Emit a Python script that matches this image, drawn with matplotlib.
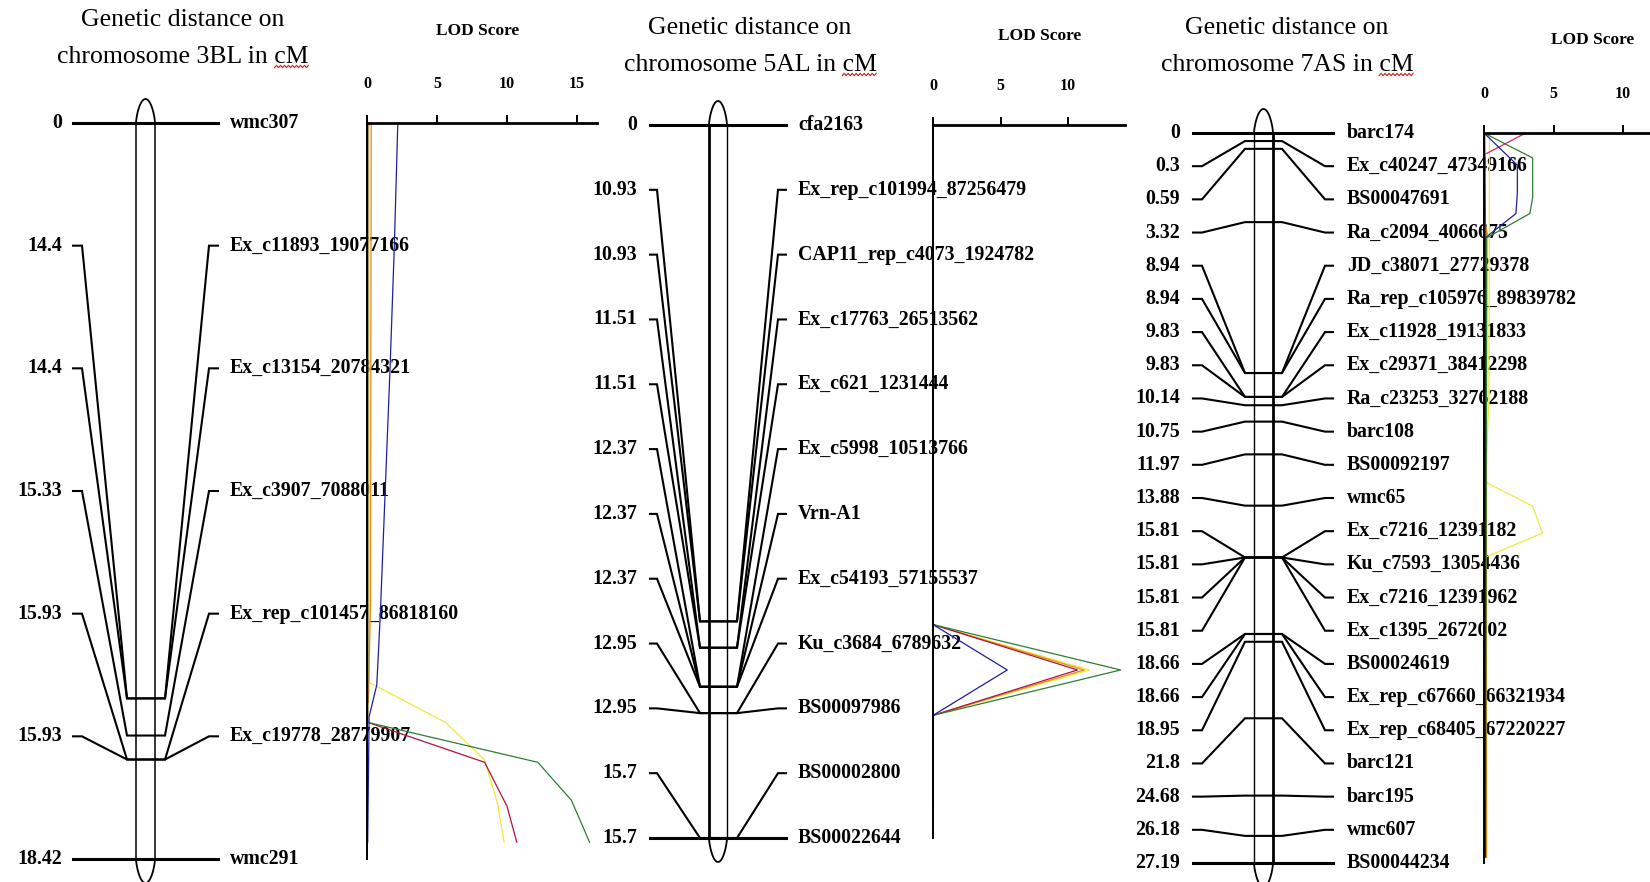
import numpy as np
import matplotlib
matplotlib.use('Agg')
import matplotlib.pyplot as plt
from matplotlib.lines import Line2D
from matplotlib.transforms import IdentityTransform

plt.rcParams['font.family'] = ['Liberation Serif', 'DejaVu Serif']

W, H = 1650, 882

# ---------------- linkage maps (marker names / positions in cM) ----------------
bl3_markers = ['wmc307', 'Ex_c11893_19077166', 'Ex_c13154_20784321', 'Ex_c3907_7088011',
               'Ex_rep_c101457_86818160', 'Ex_c19778_28779907', 'wmc291']
bl3_cm = [0, 14.4, 14.4, 15.33, 15.93, 15.93, 18.42]

al5_markers = ['cfa2163', 'Ex_rep_c101994_87256479', 'CAP11_rep_c4073_1924782',
               'Ex_c17763_26513562', 'Ex_c621_1231444', 'Ex_c5998_10513766', 'Vrn-A1',
               'Ex_c54193_57155537', 'Ku_c3684_6789632', 'BS00097986', 'BS00002800',
               'BS00022644']
al5_cm = [0, 10.93, 10.93, 11.51, 11.51, 12.37, 12.37, 12.37, 12.95, 12.95, 15.7, 15.7]

as7_markers = ['barc174', 'Ex_c40247_47349166', 'BS00047691', 'Ra_c2094_4066675',
               'JD_c38071_27729378', 'Ra_rep_c105976_89839782', 'Ex_c11928_19131833',
               'Ex_c29371_38412298', 'Ra_c23253_32762188', 'barc108', 'BS00092197', 'wmc65',
               'Ex_c7216_12391182', 'Ku_c7593_13054436', 'Ex_c7216_12391962',
               'Ex_c1395_2672002', 'BS00024619', 'Ex_rep_c67660_66321934',
               'Ex_rep_c68405_67220227', 'barc121', 'barc195', 'wmc607', 'BS00044234']
as7_cm = [0, 0.3, 0.59, 3.32, 8.94, 8.94, 9.83, 9.83, 10.14, 10.75, 11.97, 13.88,
          15.81, 15.81, 15.81, 15.81, 18.66, 18.66, 18.95, 21.8, 24.68, 26.18, 27.19]

# ---------------- LOD profiles: (cM, LOD) ----------------
bl3_yellow = ([0, 14.0, 15.0, 15.94, 17.0, 18.0], [0.15, 0.15, 5.6, 8.4, 9.3, 9.8])
bl3_orange = ([0, 12.0, 14.5], [0.3, 0.25, 0.1])
bl3_red = ([0, 15.0, 16.0, 17.1, 18.0], [0.05, 0.05, 8.4, 10.0, 10.7])
bl3_green = ([0, 15.0, 16.0, 16.95, 18.0], [0.05, 0.05, 12.2, 14.6, 15.9])
bl3_blue = ([0, 3.1, 6.1, 9.2, 12.3, 14.06, 14.86, 18.0], [2.2, 1.95, 1.65, 1.3, 0.95, 0.7, 0.15, 0.05])

al5_yellow = ([0, 11.0, 12.0, 13.0, 15.0], [0, 0, 11.6, 0, 0])
al5_orange = ([0, 11.0, 12.0, 13.0, 15.0], [0, 0, 11.2, 0, 0])
al5_red = ([0, 11.0, 12.0, 13.0, 15.0], [0, 0, 10.7, 0, 0])
al5_green = ([0, 11.0, 12.0, 13.0, 15.0], [0, 0, 13.9, 0, 0])
al5_blue = ([0, 11.0, 12.0, 13.0, 15.0], [0, 0, 5.5, 0, 0])

as7_yellow = ([0, 10.0, 13.0, 13.9, 14.9, 15.8, 26.96], [0.4, 0.35, 0.1, 3.5, 4.2, 0.1, 0.1])
as7_red = ([0, 0.8, 26.96], [3.0, 0.05, 0.05])
as7_green = ([0, 0.93, 2.4, 3.0, 3.9, 26.96], [0, 3.5, 3.5, 3.3, 0.2, 0.1])
as7_blue = ([0, 1.2, 2.2, 3.0, 3.9, 26.96], [0, 2.4, 2.4, 2.3, 0.1, 0.1])
as7_purple = ([0, 3.0, 26.96], [0.05, 0.1, 0.1])
as7_orange = ([3.5, 26.96], [0.15, 0.15])

bl3_ticks = [0, 5, 10, 15]
al5_ticks = [0, 5, 10]
as7_ticks = [0, 5, 10]

C_YEL, C_ORA, C_RED = '#eeea3a', '#e08a10', '#b0143c'
C_GRN, C_BLU, C_PUR, C_PNK = '#2e7d32', '#1f1f9e', '#7a1a7a', '#cc3060'

# layout in pixels of the 1650x882 picture
lay1 = dict(y_top=123, y_bot=859, cm_x=62, stub_l=(73, 82), bar=(127, 165), chrom=(136, 155),
            lw_chrom=(1.1, 1.1), stub_r=(209, 218), name_x=230, lod_x0=367, lod_x1=597,
            ppu=14.0, title_x=183, title_y=(20, 57), lod_title=(478, 31))
lay2 = dict(y_top=125, y_bot=838, cm_x=637, stub_l=(650, 657), bar=(700, 737), chrom=(709, 727),
            lw_chrom=(2.0, 1.0), stub_r=(778, 786), name_x=798, lod_x0=933, lod_x1=1125,
            ppu=13.5, title_x=750, title_y=(28, 65), lod_title=(1040, 36))
lay3 = dict(y_top=133, y_bot=863, cm_x=1180, stub_l=(1193, 1202), bar=(1245, 1282),
            chrom=(1254, 1273), lw_chrom=(1.0, 2.0), stub_r=(1325, 1333), name_x=1347,
            lod_x0=1484, lod_x1=1650, ppu=13.9, title_x=1287, title_y=(28, 65),
            lod_title=(1593, 40))

fig = plt.figure(figsize=(W / 100, H / 100), dpi=100)
fig.patch.set_facecolor('white')


def px_rect(x0, x1, y0, y1):
    return [x0 / W, 1 - y1 / H, (x1 - x0) / W, (y1 - y0) / H]


def draw_map(names, cm, lay):
    y0, y1 = lay['y_top'], lay['y_bot']
    cmax = cm[-1]
    ax = fig.add_axes(px_rect(0, W, y0, y1))
    ax.set_xlim(0, W)
    ax.set_ylim(cmax, 0)
    ax.axis('off')
    ppc = (y1 - y0) / cmax
    lab_y = np.linspace(0, cmax, len(names))
    cl, cr = lay['chrom']
    bl, br = lay['bar']
    sl0, sl1 = lay['stub_l']
    sr0, sr1 = lay['stub_r']
    for i, (nm, c, ly) in enumerate(zip(names, cm, lab_y)):
        lw = 2.2 if i in (0, len(names) - 1) else 1.5
        ax.plot([sl0, sl1, bl, br, sr0, sr1], [ly, ly, c, c, ly, ly], color='black', lw=lw,
                solid_joinstyle='miter', clip_on=False, zorder=3)
        ax.text(lay['cm_x'], ly, f'{c:g}', ha='right', va='center', fontsize=14.3,
                fontweight='bold')
        ax.text(lay['name_x'], ly, nm, ha='left', va='center', fontsize=14.3,
                fontweight='bold', zorder=2)
    # chromosome body and telomere caps
    ax.plot([cl, cl], [0, cmax], color='black', lw=lay['lw_chrom'][0], clip_on=False)
    ax.plot([cr, cr], [0, cmax], color='black', lw=lay['lw_chrom'][1], clip_on=False)
    u = np.linspace(-1, 1, 81)
    cx, hw, h = (cl + cr) / 2, (cr - cl) / 2, 24 / ppc
    bump = (1 - u ** 2) ** 0.7
    ax.plot(cx + hw * u, -h * bump, color='black', lw=1.3, clip_on=False)
    ax.plot(cx + hw * u, cmax + h * bump, color='black', lw=1.3, clip_on=False)
    # titles
    fig.text(lay['title_x'] / W, 1 - lay['title_y'][0] / H, 'Genetic distance on',
             ha='center', va='center', fontsize=18.5)
    return ax


def draw_lod(series, lay, cmax, ticks):
    x0, x1, ppu = lay['lod_x0'], lay['lod_x1'], lay['ppu']
    ax = fig.add_axes(px_rect(x0, x1, lay['y_top'], lay['y_bot']))
    ax.set_xlim(0, (x1 - x0) / ppu)
    ax.set_ylim(cmax, 0)
    ax.patch.set_alpha(0)
    for s in ['right', 'bottom']:
        ax.spines[s].set_visible(False)
    ax.spines['top'].set_linewidth(2.0)
    ax.spines['left'].set_linewidth(1.4)
    ax.xaxis.tick_top()
    ax.set_xticks(ticks)
    ax.set_yticks([])
    ax.tick_params(axis='x', direction='out', length=6, width=1.4, pad=16, labelsize=11.5)
    for lbl in ax.get_xticklabels():
        lbl.set_fontweight('bold')
    for (c, l), col in series:
        ax.plot(l, c, color=col, lw=0.9, clip_on=False)
    fig.text(lay['lod_title'][0] / W, 1 - lay['lod_title'][1] / H, 'LOD Score',
             ha='center', va='center', fontsize=12.5, fontweight='bold')
    return ax


draw_map(bl3_markers, bl3_cm, lay1)
draw_map(al5_markers, al5_cm, lay2)
draw_map(as7_markers, as7_cm, lay3)

draw_lod([(bl3_yellow, C_YEL), (bl3_orange, C_ORA), (bl3_red, C_RED), (bl3_green, C_GRN),
          (bl3_blue, C_BLU)], lay1, bl3_cm[-1], bl3_ticks)
draw_lod([(al5_yellow, C_YEL), (al5_orange, C_ORA), (al5_red, C_RED), (al5_green, C_GRN),
          (al5_blue, C_BLU)], lay2, al5_cm[-1], al5_ticks)
draw_lod([(as7_yellow, C_YEL), (as7_orange, C_ORA), (as7_purple, C_PUR), (as7_red, C_PNK),
          (as7_green, C_GRN), (as7_blue, C_BLU)], lay3, as7_cm[-1], as7_ticks)

# second title line, with the spell-check squiggle under "cM"
sub_titles = []
for lay, chrom in [(lay1, '3BL'), (lay2, '5AL'), (lay3, '7AS')]:
    sub_titles.append(fig.text(lay['title_x'] / W, 1 - lay['title_y'][1] / H,
                               f'chromosome {chrom} in cM', ha='center', va='center',
                               fontsize=18.5))

fig.canvas.draw()
rend = fig.canvas.get_renderer()
tmp = fig.text(0, 0, 'cM', fontsize=18.5)
w_cm = tmp.get_window_extent(rend).width
tmp.remove()
for txt in sub_titles:
    bb = txt.get_window_extent(rend)
    xs = np.arange(bb.x1 - w_cm, bb.x1, 2.0)
    ys = bb.y0 + 1.5 + 1.2 * ((np.arange(len(xs)) % 2) * 2 - 1)
    fig.add_artist(Line2D(xs, ys, color='#d02020', lw=0.8, transform=IdentityTransform()))

fig.savefig('out.png', dpi=100, facecolor='white')
